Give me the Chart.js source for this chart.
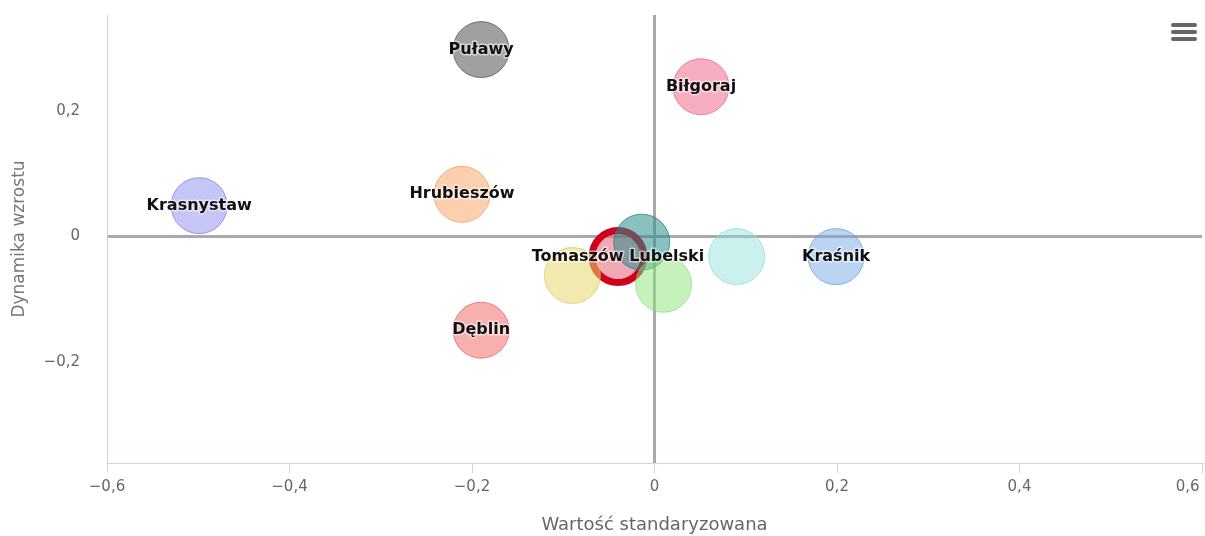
<!DOCTYPE html>
<html>
<head>
<meta charset="utf-8">
<script src="https://cdn.jsdelivr.net/npm/chart.js@4"></script>
<style>
body{margin:0;background:#fff;}
#wrap{position:relative;width:1205px;height:536px;}
#menu{position:absolute;left:1171px;top:23px;width:26px;}
#menu div{height:4px;background:#666;border-radius:2px;margin-bottom:3px;}
</style>
</head>
<body>
<div id="wrap">
<canvas id="bubble-chart"></canvas>
<div id="menu"><div></div><div></div><div></div></div>
</div>
<script>
// dane
var names = ['Dęblin','Krasnystaw','Hrubieszów','Puławy','Biłgoraj','Kraśnik','', '', '', '', 'Tomaszów Lubelski'];
var xValues = [-0.19, -0.499, -0.211, -0.19, 0.051, 0.199, 0.09, -0.09, 0.01, -0.014, -0.04];
var yValues = [-0.149, 0.049, 0.067, 0.297, 0.238, -0.032, -0.032, -0.062, -0.076, -0.009, -0.032];
var fills = ['rgba(240,110,110,0.55)','rgba(140,140,240,0.5)','rgba(250,170,110,0.55)','rgba(120,120,120,0.7)',
	'rgba(240,120,150,0.6)','rgba(120,170,230,0.5)','rgba(140,225,220,0.45)','rgba(230,215,110,0.55)',
	'rgba(140,230,120,0.5)','rgba(40,140,140,0.55)','rgba(230,110,130,0.6)'];
var borders = ['rgba(230,90,90,0.7)','rgba(120,120,230,0.7)','rgba(245,150,80,0.7)','rgba(90,90,90,0.8)',
	'rgba(235,90,130,0.7)','rgba(100,150,220,0.7)','rgba(120,215,210,0.6)','rgba(220,200,90,0.7)',
	'rgba(120,220,100,0.6)','rgba(30,120,120,0.7)','#d0021b'];
var xTicks = [-0.6, -0.4, -0.2, 0, 0.2, 0.4, 0.6];
var yTicks = [-0.2, 0, 0.2];

function fmt(v){
	var s = (Math.round(v*10)/10).toString().replace('.', ',');
	return s.replace('-', '\u2212');
}

var datasets = [];
for (var i = 0; i < names.length; i++) {
	var tom = names[i] == 'Tomaszów Lubelski';
	datasets.push({
		label: names[i],
		data: [{x: xValues[i], y: yValues[i]}],
		backgroundColor: fills[i],
		borderColor: borders[i],
		borderWidth: tom ? 7 : 1,
		radius: tom ? 26 : 28,
		hoverRadius: 0
	});
}

var labelPlugin = {
	id: 'bubbleLabels',
	afterDatasetsDraw: function(chart){
		var c = chart.ctx;
		c.save();
		c.font = 'bold 16px "DejaVu Sans"';
		c.textAlign = 'center';
		c.textBaseline = 'middle';
		chart.data.datasets.forEach(function(ds, i){
			if (!ds.label) return;
			var el = chart.getDatasetMeta(i).data[0];
			c.lineWidth = 3;
			c.strokeStyle = 'rgba(255,255,255,0.55)';
			c.lineJoin = 'round';
			c.strokeText(ds.label, el.x, el.y);
			c.fillStyle = '#111';
			c.fillText(ds.label, el.x, el.y);
		});
		c.restore();
	}
};

new Chart(document.getElementById('bubble-chart'), {
	type: 'bubble',
	data: { datasets: datasets },
	options: {
		responsive: true,
		maintainAspectRatio: false,
		animation: false,
		layout: { autoPadding: false, padding: { top: 15, right: 3, left: 0, bottom: 0 } },
		plugins: { legend: { display: false }, tooltip: { enabled: false } },
		scales: {
			x: {
				type: 'linear', min: -0.6, max: 0.6,
				afterBuildTicks: function(s){ s.ticks = xTicks.map(function(v){ return {value: v}; }); },
				afterFit: function(s){ s.height = 73; s.paddingLeft = 0; s.paddingRight = 0; },
				ticks: {
					// ostatnia etykieta przesunieta w lewo, jak w oryginale
					callback: function(v, idx, arr){ return idx == arr.length - 1 ? fmt(v) + '\u2007\u2007\u2007' : fmt(v); },
					color: '#666', font: { family: 'DejaVu Sans', size: 15 }, padding: 5, maxRotation: 0
				},
				grid: {
					color: function(ctx){ return ctx.tick && ctx.tick.value === 0 ? '#aaa' : 'rgba(0,0,0,0)'; },
					lineWidth: 3,
					tickColor: '#ccd6eb', tickLength: 10, tickWidth: 1
				},
				border: { color: '#ccd6eb', width: 1 },
				title: { display: true, text: 'Wartość standaryzowana', color: '#666', font: { family: 'DejaVu Sans', size: 18 }, padding: { top: 0, bottom: 0 } }
			},
			y: {
				type: 'linear', min: -0.36, max: 0.352,
				afterBuildTicks: function(s){ s.ticks = yTicks.map(function(v){ return {value: v}; }); },
				afterFit: function(s){ s.width = 107; s.paddingTop = 0; s.paddingBottom = 0; },
				ticks: { callback: fmt, color: '#666', font: { family: 'DejaVu Sans', size: 15 }, padding: 27 },
				grid: {
					color: function(ctx){ return ctx.tick && ctx.tick.value === 0 ? '#aaa' : 'rgba(0,0,0,0)'; },
					lineWidth: 3,
					drawTicks: false
				},
				border: { color: '#ccc', width: 1 },
				title: { display: true, text: 'Dynamika wzrostu', color: '#777', font: { family: 'DejaVu Sans', size: 17 }, padding: { top: 9, bottom: 0 } }
			}
		}
	},
	plugins: [labelPlugin]
});
</script>
</body>
</html>
